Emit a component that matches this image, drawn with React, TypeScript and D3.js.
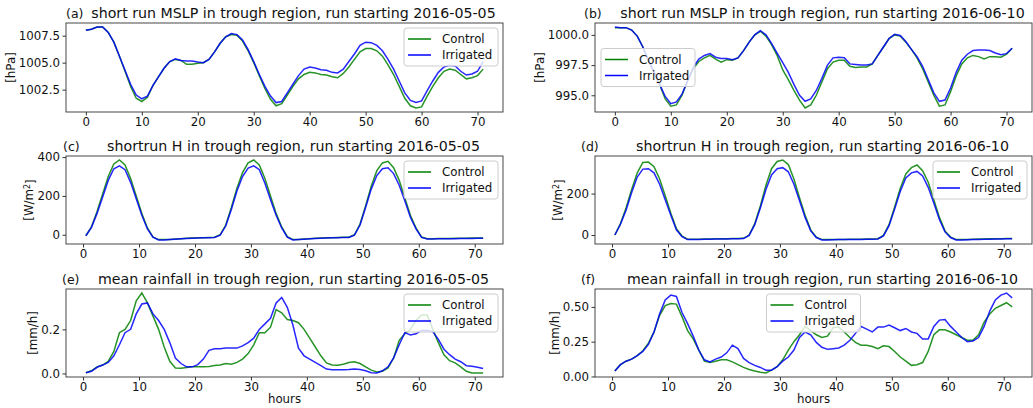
import React, { useRef, useEffect } from 'react';
import * as d3 from 'd3';

// x axes: MSLP is instantaneous (on the hour), fluxes/rain are hourly means (half hour)
const hoursInst = d3.range(0, 72);
const hoursMean = d3.range(0.5, 72, 1);
const xTicks = [0, 10, 20, 30, 40, 50, 60, 70];

const mslpCtlMay = [
  1008.0, 1008.1, 1008.3, 1008.3, 1007.8, 1006.9, 1005.6, 1004.2, 1002.8, 1001.7,
  1001.4, 1001.8, 1002.9, 1003.7, 1004.5, 1005.1, 1005.3, 1005.2, 1004.85, 1004.85,
  1004.95, 1005.0, 1005.3, 1006.0, 1006.8, 1007.4, 1007.6, 1007.55, 1007.0, 1006.1,
  1005.0, 1003.8, 1002.6, 1001.6, 1001.0, 1001.2, 1002.0, 1002.8, 1003.5, 1003.9,
  1004.1, 1004.05, 1003.9, 1003.85, 1003.7, 1003.6, 1004.0, 1004.6, 1005.3, 1006.0,
  1006.3, 1006.3, 1006.1, 1005.6, 1004.8, 1003.9, 1002.8, 1001.7, 1001.0, 1000.8,
  1000.9, 1001.9, 1002.8, 1003.6, 1004.2, 1004.4, 1004.3, 1003.9, 1003.5, 1003.6,
  1003.8, 1004.4,
];
const mslpIrrMay = [
  1008.0, 1008.1, 1008.3, 1008.3, 1007.8, 1006.9, 1005.6, 1004.3, 1003.0, 1002.0,
  1001.65, 1001.9, 1002.9, 1003.7, 1004.5, 1005.1, 1005.35, 1005.2, 1005.15, 1005.15,
  1005.05, 1005.0, 1005.3, 1006.0, 1006.8, 1007.4, 1007.7, 1007.6, 1007.1, 1006.2,
  1005.1, 1003.9, 1002.8, 1001.9, 1001.3, 1001.4, 1002.2, 1003.0, 1003.8, 1004.4,
  1004.6, 1004.5, 1004.35, 1004.3, 1004.1, 1004.05, 1004.4, 1005.1, 1005.8, 1006.6,
  1006.9, 1006.85, 1006.6, 1006.1, 1005.3, 1004.4, 1003.3, 1002.2, 1001.5, 1001.3,
  1001.45, 1002.4, 1003.3, 1004.1, 1004.6, 1004.75, 1004.7, 1004.2, 1003.85, 1003.95,
  1004.2, 1005.1,
];
const mslpCtlJun = [
  1000.6, 1000.6, 1000.6, 1000.4, 999.9, 999.0, 997.9, 996.9, 995.9, 994.7,
  994.1, 994.2, 995.0, 996.2, 997.2, 997.8, 998.1, 998.3, 998.0, 997.75,
  997.95, 997.9, 998.1, 998.7, 999.4, 1000.0, 1000.3, 999.9, 999.2, 998.3,
  997.1, 996.3, 995.4, 994.6, 993.95, 994.2, 995.0, 996.1, 997.2, 997.75,
  997.9, 997.9, 997.4, 997.3, 997.35, 997.35, 997.6, 998.3, 999.0, 999.7,
  1000.0, 999.9, 999.4, 998.8, 998.1, 997.2, 996.1, 995.0, 994.1, 994.2,
  995.3, 996.6, 997.6, 998.1, 998.3, 998.2, 998.0, 998.2, 998.2, 998.15,
  998.4, 998.9,
];
const mslpIrrJun = [
  1000.65, 1000.6, 1000.6, 1000.4, 999.9, 999.0, 997.9, 996.9, 995.9, 994.9,
  994.3, 994.45, 995.1, 996.2, 997.3, 998.0, 998.3, 998.45, 998.15, 998.05,
  998.05, 997.95, 998.1, 998.7, 999.4, 1000.0, 1000.35, 1000.0, 999.3, 998.5,
  997.7, 996.9, 995.9, 995.0, 994.5, 994.7, 995.4, 996.4, 997.5, 998.1,
  998.15, 998.1, 997.6, 997.55, 997.5, 997.5, 997.6, 998.3, 999.0, 999.7,
  1000.05, 999.95, 999.45, 998.8, 998.2, 997.4, 996.3, 995.2, 994.5, 994.6,
  995.6, 996.9, 997.9, 998.4, 998.7, 998.75, 998.75, 998.7, 998.5, 998.35,
  998.45, 998.9,
];

const shfCtlMay = [
  -5, 40, 120, 210, 300, 365, 385, 360, 290, 200, 110, 35,
  -12, -25, -25, -24, -22, -20, -18, -17, -16, -15, -14, -13,
  0, 50, 140, 240, 320, 370, 385, 360, 290, 200, 110, 40,
  -10, -25, -24, -22, -20, -18, -17, -16, -15, -14, -13, -13,
  0, 55, 150, 250, 330, 370, 378, 345, 280, 190, 100, 35,
  -12, -20, -20, -19, -19, -19, -18, -18, -18, -17, -17, -17,
];
const shfIrrMay = [
  -5, 38, 110, 195, 280, 340, 355, 335, 270, 185, 100, 30,
  -12, -27, -27, -25, -23, -21, -19, -18, -17, -16, -15, -14,
  -2, 45, 130, 225, 300, 343, 355, 335, 265, 180, 100, 35,
  -12, -27, -25, -23, -21, -19, -18, -17, -16, -15, -14, -14,
  -2, 50, 140, 235, 305, 340, 345, 315, 255, 175, 90, 30,
  -14, -22, -22, -21, -21, -20, -20, -19, -19, -19, -18, -18,
];
const shfCtlJun = [
  0, 55, 130, 220, 300, 350, 352, 330, 270, 190, 105, 30,
  -5, -20, -20, -20, -19, -19, -18, -18, -18, -17, -17, -16,
  0, 55, 140, 240, 320, 355, 362, 340, 270, 180, 95, 25,
  -10, -22, -22, -22, -21, -21, -20, -20, -20, -19, -19, -18,
  -2, 50, 135, 225, 295, 325, 338, 310, 255, 170, 85, 20,
  -10, -22, -22, -21, -20, -19, -19, -18, -18, -18, -17, -17,
];
const shfIrrJun = [
  0, 52, 120, 205, 280, 318, 320, 300, 245, 170, 95, 25,
  -8, -22, -22, -21, -20, -20, -19, -19, -19, -18, -18, -17,
  -2, 50, 130, 220, 290, 320, 325, 305, 245, 165, 85, 20,
  -12, -24, -24, -23, -22, -22, -21, -21, -21, -20, -20, -19,
  -4, 45, 125, 210, 275, 300, 307, 285, 230, 155, 75, 15,
  -12, -24, -24, -23, -22, -21, -20, -20, -19, -19, -18, -18,
];

const rainCtlMay = [
  0.003, 0.012, 0.03, 0.038, 0.055, 0.1, 0.185, 0.2, 0.24, 0.33,
  0.365, 0.32, 0.26, 0.2, 0.12, 0.055, 0.025, 0.024, 0.027, 0.03,
  0.03, 0.03, 0.032, 0.036, 0.038, 0.045, 0.042, 0.05, 0.065, 0.09,
  0.13, 0.185, 0.185, 0.21, 0.29, 0.275, 0.245, 0.24, 0.23, 0.2,
  0.16, 0.12, 0.08, 0.048, 0.038, 0.037, 0.042, 0.05, 0.053, 0.045,
  0.03, 0.015, 0.007, 0.01, 0.025, 0.07, 0.15, 0.18, 0.2, 0.24,
  0.265, 0.265, 0.2, 0.14, 0.085, 0.058, 0.048, 0.03, 0.01, 0.002,
  0.002, 0.002,
];
const rainIrrMay = [
  0.003, 0.01, 0.028, 0.038, 0.05, 0.08, 0.13, 0.185, 0.2, 0.27,
  0.315, 0.32, 0.27, 0.24, 0.2, 0.14, 0.07, 0.045, 0.03, 0.03,
  0.04, 0.065, 0.105, 0.112, 0.112, 0.115, 0.115, 0.115, 0.125, 0.14,
  0.16, 0.2, 0.225, 0.25, 0.32, 0.345, 0.3, 0.22, 0.115, 0.08,
  0.065, 0.05, 0.035, 0.02, 0.017, 0.017, 0.017, 0.018, 0.02, 0.018,
  0.012, 0.003, 0.002, 0.012, 0.03, 0.07, 0.13, 0.185, 0.175, 0.18,
  0.195, 0.195, 0.19, 0.155, 0.11, 0.085, 0.065, 0.053, 0.035, 0.033,
  0.028, 0.022,
];
const rainCtlJun = [
  0.04, 0.085, 0.11, 0.125, 0.15, 0.185, 0.24, 0.32, 0.44, 0.51,
  0.525, 0.52, 0.43, 0.33, 0.27, 0.19, 0.11, 0.1, 0.11, 0.12,
  0.12, 0.105, 0.085, 0.065, 0.05, 0.04, 0.03, 0.025, 0.045, 0.07,
  0.12, 0.19, 0.25, 0.3, 0.36, 0.33, 0.3, 0.28, 0.29, 0.35,
  0.355, 0.32, 0.28, 0.245, 0.225, 0.225, 0.215, 0.2, 0.22, 0.215,
  0.18, 0.14, 0.11, 0.08, 0.085, 0.1, 0.18, 0.3, 0.335, 0.335,
  0.32, 0.3, 0.28, 0.26, 0.26, 0.3, 0.39, 0.45, 0.49, 0.51,
  0.53, 0.5,
];
const rainIrrJun = [
  0.04, 0.085, 0.11, 0.125, 0.15, 0.18, 0.23, 0.32, 0.45, 0.55,
  0.585, 0.575, 0.46, 0.38, 0.29, 0.19, 0.12, 0.105, 0.125, 0.14,
  0.17, 0.225, 0.2, 0.13, 0.1, 0.08, 0.065, 0.045, 0.045, 0.07,
  0.11, 0.14, 0.19, 0.28, 0.32, 0.3, 0.245, 0.21, 0.195, 0.2,
  0.205, 0.225, 0.26, 0.31, 0.36, 0.34, 0.32, 0.355, 0.355, 0.37,
  0.35, 0.33, 0.345, 0.32, 0.31, 0.27, 0.27, 0.36, 0.405, 0.41,
  0.36, 0.32, 0.28, 0.25, 0.255, 0.28, 0.36, 0.47, 0.55, 0.585,
  0.6, 0.565,
];

const seriesNames = ['Control', 'Irrigated'];
const seriesColors = ['#008000', '#0000ff'];

type LegendLoc = 'upper right' | 'center left' | 'upper center';

interface Panel {
  letter: string;
  title: string;
  ylabel: string;
  sup?: string;
  x: number[];
  ctl: number[];
  irr: number[];
  yTicks: number[];
  fmt: string;
  col: number;
  row: number;
  legend: LegendLoc;
  letterDx: number;
}

const panels: Panel[] = [
  { letter: '(a)', title: 'short run MSLP in trough region, run starting 2016-05-05', ylabel: '[hPa]',
    x: hoursInst, ctl: mslpCtlMay, irr: mslpIrrMay, yTicks: [1002.5, 1005, 1007.5], fmt: '.1f',
    col: 0, row: 0, legend: 'upper right', letterDx: 0 },
  { letter: '(b)', title: 'short run MSLP in trough region, run starting 2016-06-10', ylabel: '[hPa]',
    x: hoursInst, ctl: mslpCtlJun, irr: mslpIrrJun, yTicks: [995, 997.5, 1000], fmt: '.1f',
    col: 1, row: 0, legend: 'center left', letterDx: -11 },
  { letter: '(c)', title: 'shortrun H in trough region, run starting 2016-05-05', ylabel: '[W/m', sup: '2',
    x: hoursMean, ctl: shfCtlMay, irr: shfIrrMay, yTicks: [0, 200, 400], fmt: 'd',
    col: 0, row: 1, legend: 'upper right', letterDx: -3 },
  { letter: '(d)', title: 'shortrun H in trough region, run starting 2016-06-10', ylabel: '[W/m', sup: '2',
    x: hoursMean, ctl: shfCtlJun, irr: shfIrrJun, yTicks: [0, 200], fmt: 'd',
    col: 1, row: 1, legend: 'upper right', letterDx: -14 },
  { letter: '(e)', title: 'mean rainfall in trough region, run starting 2016-05-05', ylabel: '[mm/h]',
    x: hoursMean, ctl: rainCtlMay, irr: rainIrrMay, yTicks: [0, 0.2], fmt: '.1f',
    col: 0, row: 2, legend: 'upper right', letterDx: -4 },
  { letter: '(f)', title: 'mean rainfall in trough region, run starting 2016-06-10', ylabel: '[mm/h]',
    x: hoursMean, ctl: rainCtlJun, irr: rainIrrJun, yTicks: [0, 0.25, 0.5], fmt: '.2f',
    col: 1, row: 2, legend: 'upper center', letterDx: -14 },
];

const W = 1033;
const H = 408;
const colX = [[66, 503], [595, 1032]];
const rowY = [[23, 112], [156, 244], [289, 377]];
const FONT = '"DejaVu Sans", sans-serif';

// matplotlib-style 5% data margins
function padded(lo: number, hi: number): [number, number] {
  const m = (hi - lo) * 0.05;
  return [lo - m, hi + m];
}

const App: React.FC = () => {
  const svgRef = useRef<SVGSVGElement | null>(null);

  useEffect(() => {
    const svg = d3.select(svgRef.current);
    svg.selectAll('*').remove();

    panels.forEach(p => {
      const [left, right] = colX[p.col];
      const [top, bottom] = rowY[p.row];

      const xExt = d3.extent(p.x) as [number, number];
      const yExt = d3.extent([...p.ctl, ...p.irr]) as [number, number];
      const xScale = d3.scaleLinear().domain(padded(xExt[0], xExt[1])).range([left, right]);
      const yScale = d3.scaleLinear().domain(padded(yExt[0], yExt[1])).range([bottom, top]);

      const g = svg.append('g');

      // lines
      [p.ctl, p.irr].forEach((vals, i) => {
        const line = d3.line<number>()
          .x((_, j) => xScale(p.x[j]))
          .y(d => yScale(d));
        g.append('path')
          .attr('d', line(vals) ?? '')
          .attr('fill', 'none')
          .attr('stroke', seriesColors[i])
          .attr('stroke-width', 1.5)
          .attr('stroke-opacity', 0.85);
      });

      // frame
      g.append('rect')
        .attr('x', left).attr('y', top)
        .attr('width', right - left).attr('height', bottom - top)
        .attr('fill', 'none').attr('stroke', '#333').attr('stroke-width', 0.9);

      // axes
      const xAxis = g.append('g')
        .attr('transform', `translate(0,${bottom})`)
        .call(d3.axisBottom(xScale).tickValues(xTicks).tickFormat(d3.format('d')).tickSize(3.5).tickPadding(2.5));
      const yAxis = g.append('g')
        .attr('transform', `translate(${left},0)`)
        .call(d3.axisLeft(yScale).tickValues(p.yTicks).tickFormat(d3.format(p.fmt)).tickSize(3.5).tickPadding(2.5));
      [xAxis, yAxis].forEach(a => {
        a.select('.domain').remove();
        a.selectAll('line').attr('stroke', '#333');
        a.selectAll('text').attr('fill', '#111').style('font-family', FONT).style('font-size', '11.8px');
      });

      // y label, left of the tick labels
      const bb = (yAxis.node() as SVGGElement).getBBox();
      const lx = left + bb.x - 4;
      const ly = (top + bottom) / 2;
      const yl = g.append('text')
        .attr('transform', `translate(${lx},${ly}) rotate(-90)`)
        .attr('text-anchor', 'middle')
        .attr('fill', '#111')
        .style('font-family', FONT)
        .style('font-size', '11.8px')
        .text(p.ylabel);
      if (p.sup) {
        yl.append('tspan').attr('dy', '-0.45em').style('font-size', '8px').text(p.sup);
        yl.append('tspan').attr('dy', '0.45em').text(']');
      }

      // titles
      g.append('text')
        .attr('x', (left + right) / 2 + 9)
        .attr('y', top - 5)
        .attr('text-anchor', 'middle')
        .attr('fill', '#111')
        .style('font-family', FONT)
        .style('font-size', '14.2px')
        .text(p.title);
      g.append('text')
        .attr('x', left + p.letterDx)
        .attr('y', top - 5)
        .attr('fill', '#111')
        .style('font-family', FONT)
        .style('font-size', '12.5px')
        .text(p.letter);

      if (p.row === 2) {
        g.append('text')
          .attr('x', (left + right) / 2)
          .attr('y', 403)
          .attr('text-anchor', 'middle')
          .attr('fill', '#111')
          .style('font-family', FONT)
          .style('font-size', '11.8px')
          .text('hours');
      }

      // legend
      const lw = 94;
      const lh = 38;
      let lxp = right - 5 - lw;
      let lyp = top + 5;
      if (p.legend === 'center left') {
        lxp = left + 6;
        lyp = (top + bottom) / 2 - lh / 2;
      } else if (p.legend === 'upper center') {
        lxp = (left + right) / 2 - lw / 2;
      }
      const lg = g.append('g').attr('transform', `translate(${lxp},${lyp})`);
      lg.append('rect')
        .attr('width', lw).attr('height', lh).attr('rx', 3)
        .attr('fill', 'white').attr('fill-opacity', 0.8)
        .attr('stroke', '#cccccc').attr('stroke-width', 1);
      seriesNames.forEach((name, i) => {
        const cy = 11 + i * 16;
        lg.append('line')
          .attr('x1', 4).attr('x2', 27).attr('y1', cy).attr('y2', cy)
          .attr('stroke', seriesColors[i]).attr('stroke-width', 1.5);
        lg.append('text')
          .attr('x', 38).attr('y', cy).attr('dy', '0.35em')
          .attr('fill', '#111')
          .style('font-family', FONT)
          .style('font-size', '11.8px')
          .text(name);
      });
    });
  }, []);

  return (
    <svg
      ref={svgRef}
      width={W}
      height={H}
      style={{ position: 'absolute', left: 0, top: 0, background: 'white' }}
    />
  );
};

export default App;
